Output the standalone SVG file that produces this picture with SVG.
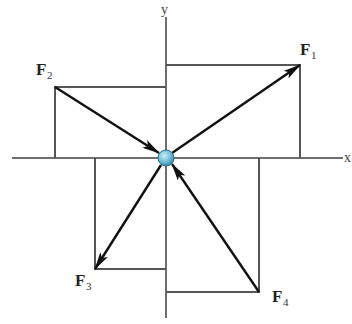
<svg xmlns="http://www.w3.org/2000/svg" width="352" height="324" viewBox="0 0 352 324">
<defs>
<style>
.ax{stroke:#6e6e6e;stroke-width:2;fill:none}
.bx{stroke:#555;stroke-width:2;fill:none}
.ar{stroke:#111;stroke-width:2.4;fill:none;marker-end:url(#ah)}
.lb{font-family:"Liberation Serif","Times New Roman",serif;font-weight:bold;font-size:17px;fill:#222}
.sb{font-family:"Liberation Serif","Times New Roman",serif;font-size:11px;fill:#333}
.al{font-family:"Liberation Serif","Times New Roman",serif;font-size:14px;fill:#444}
</style>
<marker id="ah" viewBox="0 0 18 9" refX="17" refY="4.5" markerWidth="18" markerHeight="9" markerUnits="userSpaceOnUse" orient="auto">
<path d="M0,0 L18,4.5 L0,9 L4,4.5 Z" fill="#111"/>
</marker>
<radialGradient id="ball" cx="0.4" cy="0.35" r="0.7">
<stop offset="0" stop-color="#cdeef8"/>
<stop offset="0.6" stop-color="#6bb8d4"/>
<stop offset="1" stop-color="#2e7f9e"/>
</radialGradient>
</defs>
<g id="axes">
<line class="ax" x1="12" y1="158" x2="343" y2="158"/>
<line class="ax" x1="166" y1="17" x2="166" y2="318"/>
<text class="al" x="161" y="14">y</text>
<text class="al" x="344" y="162">x</text>
</g>
<g id="components">
<polyline class="bx" points="166,65 300,65 300,158"/>
<polyline class="bx" points="166,87 55,87 55,158"/>
<polyline class="bx" points="95,158 95,269 166,269"/>
<polyline class="bx" points="259,158 259,292 166,292"/>
</g>
<g id="connectors">
<line class="ar" x1="172" y1="153" x2="300" y2="65"/>
<line class="ar" x1="55" y1="87" x2="159" y2="153"/>
<line class="ar" x1="161" y1="165" x2="95" y2="269"/>
<line class="ar" x1="259" y1="292" x2="172" y2="164"/>
</g>
<g id="particle">
<circle cx="166" cy="158" r="8" fill="url(#ball)" stroke="#2a6f88" stroke-width="1"/>
</g>
<g id="F1"><text class="lb" x="300" y="55">F</text><text class="sb" x="311" y="59">1</text></g>
<g id="F2"><text class="lb" x="36" y="75">F</text><text class="sb" x="47" y="79">2</text></g>
<g id="F3"><text class="lb" x="75" y="286">F</text><text class="sb" x="86" y="290">3</text></g>
<g id="F4"><text class="lb" x="272" y="302">F</text><text class="sb" x="283" y="306">4</text></g>
</svg>
